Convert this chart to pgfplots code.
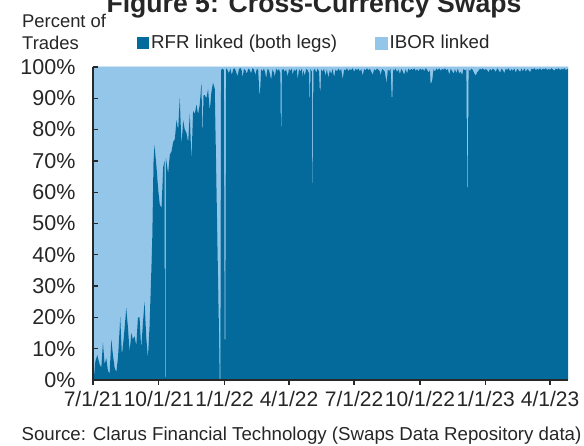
\documentclass[border=0pt]{standalone}
\usepackage{pgfplots}
\pgfplotsset{compat=1.18}
\usepackage{pgfplotstable}
\usepackage{fontspec}
\setmainfont{Liberation Sans}
\definecolor{rfr}{RGB}{4,106,155}
\definecolor{ibor}{RGB}{148,198,234}
\definecolor{axgray}{RGB}{40,40,40}

\pgfplotstableread{
day rfr ibor
0 0 100
1.4 1 99
3.3 6 94
6.0 8 92
9.3 5 95
11.6 4 96
13.9 12 88
16.3 5 95
18.6 7 93
20.9 3 97
23.2 2 98
25.6 13 87
27.9 8 92
30.2 4 96
32.5 2.5 97.5
34.9 7 93
38.1 20 80
40.4 8 92
43.2 14 86
46.5 23 77
48.8 17 83
51.2 9 91
53.5 15 85
55.8 13 87
58.1 14 86
60.5 11 89
62.8 20 80
65.1 20 80
67.4 10 90
69.7 18 82
72.1 25 75
74.4 14 86
76.7 7 93
79.0 17 83
81.4 34 66
82.8 45 55
84.6 70 30
86.0 75 25
88.8 68 32
91.1 61 39
93.4 56 44
95.8 55 45
98.1 68 32
100.0 70 30
100.6 1 99
101.4 1 99
102.0 71 29
105.0 66 34
107.4 72 28
109.7 73 27
112.0 76 24
114.4 77 23
116.7 83 17
119.0 80 20
121.3 90 10
123.7 75 25
126.0 83 17
128.3 80 20
130.6 79 21
133.0 76 24
135.3 85 15
137.6 70 30
139.9 86 14
142.3 85 15
144.6 88 12
146.9 85 15
149.2 88 12
151.6 95 5
153.0 77 23
154.5 91 9
156.2 91 9
158.5 90 10
160.9 93 7
163.2 86 14
165.5 92 8
167.8 95 5
170.2 93 7
172 70 30
174 43 57
176 17 83
177.2 0 100
178.0 0 100
179 99 1
181 99.5 0.5
183 99 1
184.1 13 87
184.9 13 87
186 99.6 0.4
188 99.0 1.0
190 98.0 2.0
192 99.5 0.5
194 97.5 2.5
196 99.2 0.8
198 99.6 0.4
200 98.5 1.5
202 97.0 3.0
204 99.3 0.7
206 99.7 0.3
208 98.8 1.2
209 96.5 3.5
211 99.4 0.6
213 99.0 1.0
215 97.8 2.2
217 99.5 0.5
219 99.1 0.9
221 98.0 2.0
223 99.6 0.4
225 99.2 0.8
227 97.5 2.5
229 99.4 0.6
231 99.0 1.0
232.6 91.5 8.5
233.4 91.5 8.5
235 99.3 0.7
237 98.6 1.4
239 99.5 0.5
241 98.0 2.0
242 96.5 3.5
244 99.4 0.6
246 99.0 1.0
248 97.0 3.0
249 96.0 4.0
251 99.2 0.8
253 98.2 1.8
254 96.8 3.2
256 99.5 0.5
258 98.8 1.2
260 99.3 0.7
262 98.0 2.0
262.6 81.0 19.0
263.4 81.0 19.0
264 99.0 1.0
266 99.4 0.6
268 98.5 1.5
270 99.2 0.8
272 97.0 3.0
274 99.3 0.7
276 98.8 1.2
278 99.5 0.5
279 97.5 2.5
281 99.2 0.8
283 98.7 1.3
285 99.4 0.6
286 96.0 4.0
288 99.3 0.7
290 98.6 1.4
292 99.5 0.5
293 96.6 3.4
294 98.9 1.1
296 97.2 2.8
298 99.4 0.6
300 99.0 1.0
302 98.0 2.0
303 86.0 14.0
304 99.3 0.7
306 98.5 1.5
306.6 63.0 37.0
307.4 63.0 37.0
308 98.8 1.2
310 99.4 0.6
312 98.2 1.8
314 99.5 0.5
316 98.6 1.4
317.1 92.5 7.5
317.9 92.5 7.5
319 99.2 0.8
321 98.5 1.5
323 99.4 0.6
325 97.2 2.8
327 99.3 0.7
329 96.5 3.5
331 99.0 1.0
333 97.8 2.2
335 99.4 0.6
337 96.8 3.2
339 99.2 0.8
341 98.6 1.4
343 99.5 0.5
345 98.8 1.2
347 99.3 0.7
349 96.0 4.0
351 99.2 0.8
353 98.9 1.1
355 99.6 0.4
357 98.7 1.3
359 99.3 0.7
361 99.0 1.0
363 99.6 0.4
365 98.5 1.5
367 99.4 0.6
369 99.0 1.0
371 99.5 0.5
373 98.6 1.4
375 99.3 0.7
377 97.2 2.8
379 99.4 0.6
381 98.9 1.1
383 99.6 0.4
385 99.0 1.0
387 99.4 0.6
389 98.5 1.5
391 97.5 2.5
393 99.3 0.7
395 98.8 1.2
397 99.5 0.5
399 99.1 0.9
401 98.6 1.4
402 97.3 2.7
404 99.4 0.6
406 99.0 1.0
408 98.5 1.5
410.5 94.7 5.3
412 99.2 0.8
414 98.7 1.3
416 99.4 0.6
417.6 90.4 9.6
418.4 90.4 9.6
419.5 99.2 0.8
421 98.8 1.2
423 99.5 0.5
425 98.4 1.6
427 99.2 0.8
429 97.8 2.2
431 99.4 0.6
433 98.6 1.4
435 97.6 2.4
437 99.3 0.7
439 98.0 2.0
441 99.5 0.5
443 98.9 1.1
445 99.4 0.6
447 99.0 1.0
449 99.6 0.4
451 98.8 1.2
453 99.3 0.7
455 98.6 1.4
457 99.5 0.5
459 99.0 1.0
461 99.4 0.6
463 98.7 1.3
465 99.6 0.4
467 99.1 0.9
469 98.2 1.8
471 99.0 1.0
472 94.5 5.5
474 95.5 4.5
476 99.2 0.8
478 98.6 1.4
480 99.5 0.5
482 99.0 1.0
484 99.6 0.4
486 98.8 1.2
488 99.4 0.6
490 99.1 0.9
492 99.6 0.4
494 98.9 1.1
496 99.3 0.7
498 97.6 2.4
500 99.4 0.6
502 98.8 1.2
504 97.8 2.2
506 99.3 0.7
508 98.0 2.0
510 99.5 0.5
512 97.9 2.1
514 98.5 1.5
516 97.5 2.5
518 99.4 0.6
520 98.9 1.1
522 99.2 0.8
523.1 61.5 38.5
523.9 61.5 38.5
525 99.3 0.7
527 98.7 1.3
529 99.5 0.5
531 99.0 1.0
533 98.0 2.0
535 97.2 2.8
537 98.3 1.7
539 98.8 1.2
541 99.5 0.5
543 99.1 0.9
545 99.6 0.4
547 98.9 1.1
549 99.4 0.6
551 99.0 1.0
553 98.3 1.7
555 99.4 0.6
557 98.8 1.2
559 99.5 0.5
561 99.1 0.9
563 98.4 1.6
565 99.6 0.4
567 99.0 1.0
569 98.2 1.8
571 99.4 0.6
573 99.0 1.0
575 98.0 2.0
577 99.5 0.5
579 99.0 1.0
581 99.6 0.4
583 98.6 1.4
585 99.3 0.7
587 98.8 1.2
589 99.5 0.5
591 98.2 1.8
593 99.4 0.6
595 99.0 1.0
597 98.4 1.6
599 99.5 0.5
601 98.6 1.4
603 99.6 0.4
605 98.5 1.5
607 99.3 0.7
609 99.0 1.0
611 98.3 1.7
613 99.5 0.5
615 99.2 0.8
617 99.6 0.4
619 99.0 1.0
621 99.4 0.6
623 99.1 0.9
625 99.6 0.4
627 98.9 1.1
629 99.5 0.5
631 99.2 0.8
633 99.6 0.4
635 99.0 1.0
637 99.4 0.6
639 99.1 0.9
641 99.6 0.4
643 99.2 0.8
645 98.8 1.2
647 99.5 0.5
649 99.2 0.8
651 99.6 0.4
653 99.0 1.0
655 99.4 0.6
657 99.2 0.8
659 99.6 0.4
661 99.0 1.0
664 99.5 0.5
}\swaps

\begin{document}
\begin{tikzpicture}
\begin{axis}[
  at={(0pt,0pt)}, anchor=south west,
  scale only axis, width=475pt, height=313pt,
  xmin=0, xmax=664, ymin=0, ymax=100,
  stack plots=y,
  axis on top,
  axis x line=bottom, axis y line=left,
  axis line style={-, axgray, line width=1.3pt},
  tick align=inside,
  major tick length=5pt,
  tick style={axgray, line width=1.3pt},
  x tick style={yshift=-5pt},
  xtick={0,92,184,274,365,457,549,639},
  xticklabels={7/1/21,10/1/21,1/1/22,4/1/22,7/1/22,10/1/22,1/1/23,4/1/23},
  ytick={0,10,...,100},
  yticklabels={0\%,10\%,20\%,30\%,40\%,50\%,60\%,70\%,80\%,90\%,100\%},
  xticklabel style={font=\fontsize{21}{24}\selectfont, text=black!85, yshift=-8pt},
  yticklabel style={font=\fontsize{21.5}{24}\selectfont, text=black!85, xshift=-14pt},
  legend columns=2,
  legend style={at={(axis description cs:0.0926,1.077)}, anchor=west,
    draw=none, fill=none, inner sep=0pt,
    font=\fontsize{18.7}{22}\selectfont, text=black!85,
    /tikz/every even column/.append style={column sep=36pt},
    nodes={inner xsep=2pt}},
  legend image code/.code={\fill[#1] (0pt,-6pt) rectangle (12pt,6pt);},
]
\addplot[fill=rfr, draw=none] table[x=day, y=rfr] {\swaps} \closedcycle;
\addlegendentry{RFR linked (both legs)}
\addplot[fill=ibor, draw=ibor, line width=0.5pt] table[x=day, y=ibor] {\swaps} \closedcycle;
\addlegendentry{IBOR linked}
\end{axis}
\node[anchor=base, font=\fontsize{26.6}{30}\selectfont\bfseries, text=black!85] at (221pt,367pt) {Figure 5: Cross-Currency Swaps};
\node[anchor=base west, font=\fontsize{18.4}{22}\selectfont, text=black!85, inner sep=0pt] at (-71pt,352pt) {Percent of};
\node[anchor=base west, font=\fontsize{18.4}{22}\selectfont, text=black!85, inner sep=0pt] at (-71pt,330pt) {Trades};
\node[anchor=base, font=\fontsize{18.7}{22}\selectfont, text=black!85, inner sep=0pt] at (208.5pt,-61pt) {Source: Clarus Financial Technology (Swaps Data Repository data)};
\pgfresetboundingbox
\path[use as bounding box] (-93pt,-66pt) rectangle (491pt,380pt);
\end{tikzpicture}
\end{document}
